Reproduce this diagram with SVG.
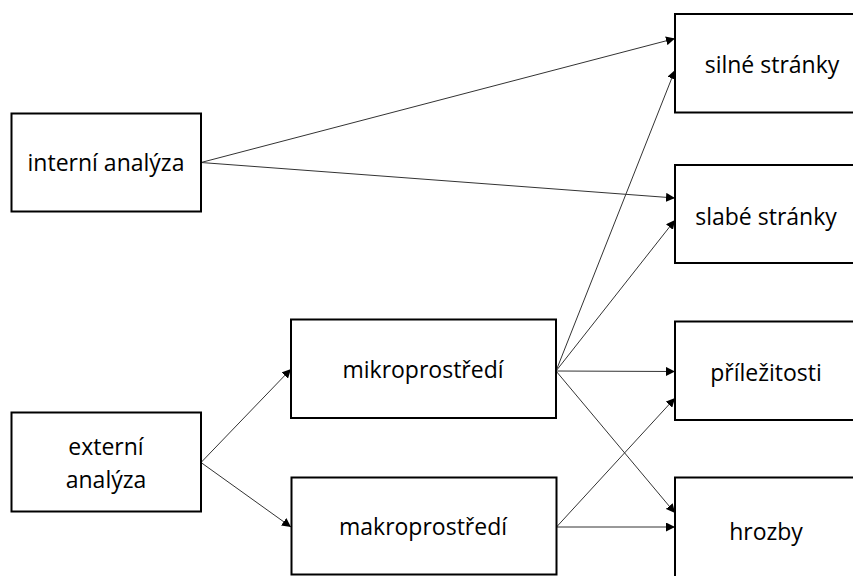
<svg xmlns="http://www.w3.org/2000/svg" width="853" height="576" viewBox="0 0 853 576">
<style>
.box{fill:#fff;stroke:#000;stroke-width:2}
.lbl{font-family:"Open Sans","Liberation Sans",sans-serif;font-size:23px;fill:#000;text-anchor:middle}
.con{stroke:#333;stroke-width:1;fill:none;marker-end:url(#ah)}
</style>
<defs>
<marker id="ah" viewBox="0 0 10 10" refX="10" refY="5" markerWidth="9" markerHeight="9" markerUnits="userSpaceOnUse" orient="auto">
<path d="M0,0 L10,5 L0,10 z" fill="#000"/>
</marker>
</defs>
<rect width="853" height="576" fill="#fff"/>
<g id="connectors">
<line class="con" x1="201" y1="162.5" x2="675" y2="38.5"/>
<line class="con" x1="201" y1="162.5" x2="675" y2="198"/>
<line class="con" x1="201" y1="462.5" x2="291" y2="369"/>
<line class="con" x1="201" y1="462.5" x2="291" y2="527"/>
<line class="con" x1="556" y1="371" x2="675" y2="70"/>
<line class="con" x1="556" y1="371" x2="675" y2="220"/>
<line class="con" x1="556" y1="371" x2="675" y2="371.5"/>
<line class="con" x1="556" y1="371" x2="675" y2="513"/>
<line class="con" x1="556.5" y1="527" x2="675" y2="398"/>
<line class="con" x1="556.5" y1="527" x2="675" y2="527"/>
</g>
<g id="interni">
<rect class="box" x="11.5" y="113.5" width="189.5" height="98"/>
<text class="lbl" x="106" y="171">interní analýza</text>
</g>
<g id="externi">
<rect class="box" x="11.5" y="412.5" width="189.5" height="99"/>
<text class="lbl" x="106" y="455">externí</text>
<text class="lbl" x="106" y="488">analýza</text>
</g>
<g id="mikro">
<rect class="box" x="291" y="319.5" width="265" height="98.5"/>
<text class="lbl" x="423" y="378">mikroprostředí</text>
</g>
<g id="makro">
<rect class="box" x="291.5" y="477.5" width="265" height="97"/>
<text class="lbl" x="423" y="535">makroprostředí</text>
</g>
<g id="silne">
<rect class="box" x="675" y="14" width="190" height="98.5"/>
<text class="lbl" x="772" y="73">silné stránky</text>
</g>
<g id="slabe">
<rect class="box" x="675" y="165" width="190" height="98"/>
<text class="lbl" x="766" y="225">slabé stránky</text>
</g>
<g id="prilezitosti">
<rect class="box" x="675" y="321.5" width="190" height="98.5"/>
<text class="lbl" x="766" y="381">příležitosti</text>
</g>
<g id="hrozby">
<rect class="box" x="675" y="477.5" width="190" height="110"/>
<text class="lbl" x="766" y="540">hrozby</text>
</g>
</svg>
